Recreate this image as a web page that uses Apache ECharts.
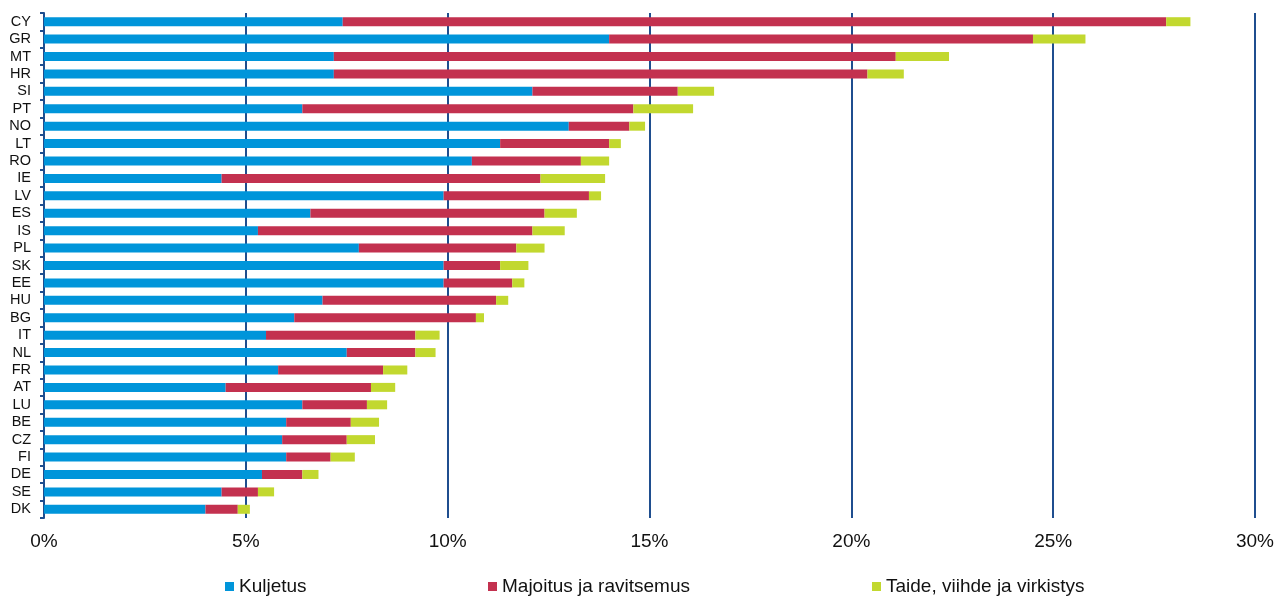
<!DOCTYPE html>
<html>
<head>
<meta charset="utf-8">
<script src="https://cdn.jsdelivr.net/npm/echarts@6/dist/echarts.min.js"></script>
<style>
  html, body { margin: 0; padding: 0; background: #fff; }
  #chart { width: 1282px; height: 597px; }
</style>
</head>
<body>
<div id="chart"></div>
<script>
// Country codes, top to bottom
const countries = ['CY','GR','MT','HR','SI','PT','NO','LT','RO','IE','LV','ES','IS','PL','SK','EE','HU','BG','IT','NL','FR','AT','LU','BE','CZ','FI','DE','SE','DK'];

// Shares (%) by sector
const kuljetus = [7.4, 14.0, 7.18, 7.18, 12.1, 6.4, 13.0, 11.3, 10.6, 4.4, 9.9, 6.6, 5.3, 7.8, 9.9, 9.9, 6.9, 6.2, 5.5, 7.5, 5.8, 4.5, 6.4, 6.0, 5.9, 6.0, 5.4, 4.4, 4.0];
const majoitus = [20.4, 10.5, 13.92, 13.22, 3.6, 8.2, 1.5, 2.7, 2.7, 7.9, 3.6, 5.8, 6.8, 3.9, 1.4, 1.7, 4.3, 4.5, 3.7, 1.7, 2.6, 3.6, 1.6, 1.6, 1.6, 1.1, 1.0, 0.9, 0.8];
const taide = [0.6, 1.3, 1.32, 0.9, 0.9, 1.48, 0.39, 0.29, 0.7, 1.6, 0.3, 0.8, 0.8, 0.7, 0.7, 0.3, 0.3, 0.2, 0.6, 0.5, 0.6, 0.6, 0.5, 0.7, 0.7, 0.6, 0.4, 0.4, 0.3];

const seriesNames = ['Kuljetus', 'Majoitus ja ravitsemus', 'Taide, viihde ja virkistys'];
const colors = ['#0095DA', '#C3314F', '#C2D82F'];

const FONT = 'Liberation Sans, Arial, sans-serif';
const axisBlue = '#1F4E8F';

const chart = echarts.init(document.getElementById('chart'), null, { renderer: 'canvas' });

function bar(name, data, color) {
  return {
    name: name,
    type: 'bar',
    stack: 'total',
    data: data,
    barWidth: 9,
    itemStyle: { color: color },
    emphasis: { disabled: true },
    animation: false
  };
}

const legendBase = {
  top: 577,
  padding: 0,
  icon: 'rect',
  itemWidth: 9,
  itemHeight: 9,
  itemGap: 4,
  textStyle: { fontFamily: FONT, fontSize: 19, color: '#111' },
  selectedMode: false
};

chart.setOption({
  animation: false,
  color: colors,
  grid: { left: 44, right: 27, top: 13, bottom: 79, containLabel: false },
  xAxis: {
    type: 'value',
    min: 0,
    max: 30,
    interval: 5,
    axisLine: { show: false },
    axisTick: { show: false },
    axisLabel: {
      formatter: '{value}%',
      fontFamily: FONT,
      fontSize: 19,
      color: '#111',
      margin: 14
    },
    splitLine: { show: true, lineStyle: { color: axisBlue, width: 2 } }
  },
  yAxis: {
    type: 'category',
    inverse: true,
    data: countries,
    axisLine: { show: true, lineStyle: { color: axisBlue, width: 2 } },
    axisTick: { show: true, interval: 0, length: 4, lineStyle: { color: axisBlue, width: 2 } },
    axisLabel: {
      interval: 0,
      fontFamily: FONT,
      fontSize: 14.5,
      color: '#111',
      margin: 13
    }
  },
  legend: [
    Object.assign({}, legendBase, { left: 225, data: [seriesNames[0]] }),
    Object.assign({}, legendBase, { left: 488, data: [seriesNames[1]] }),
    Object.assign({}, legendBase, { left: 872, data: [seriesNames[2]] })
  ],
  series: [
    bar(seriesNames[0], kuljetus, colors[0]),
    bar(seriesNames[1], majoitus, colors[1]),
    bar(seriesNames[2], taide, colors[2])
  ]
});
</script>
</body>
</html>
